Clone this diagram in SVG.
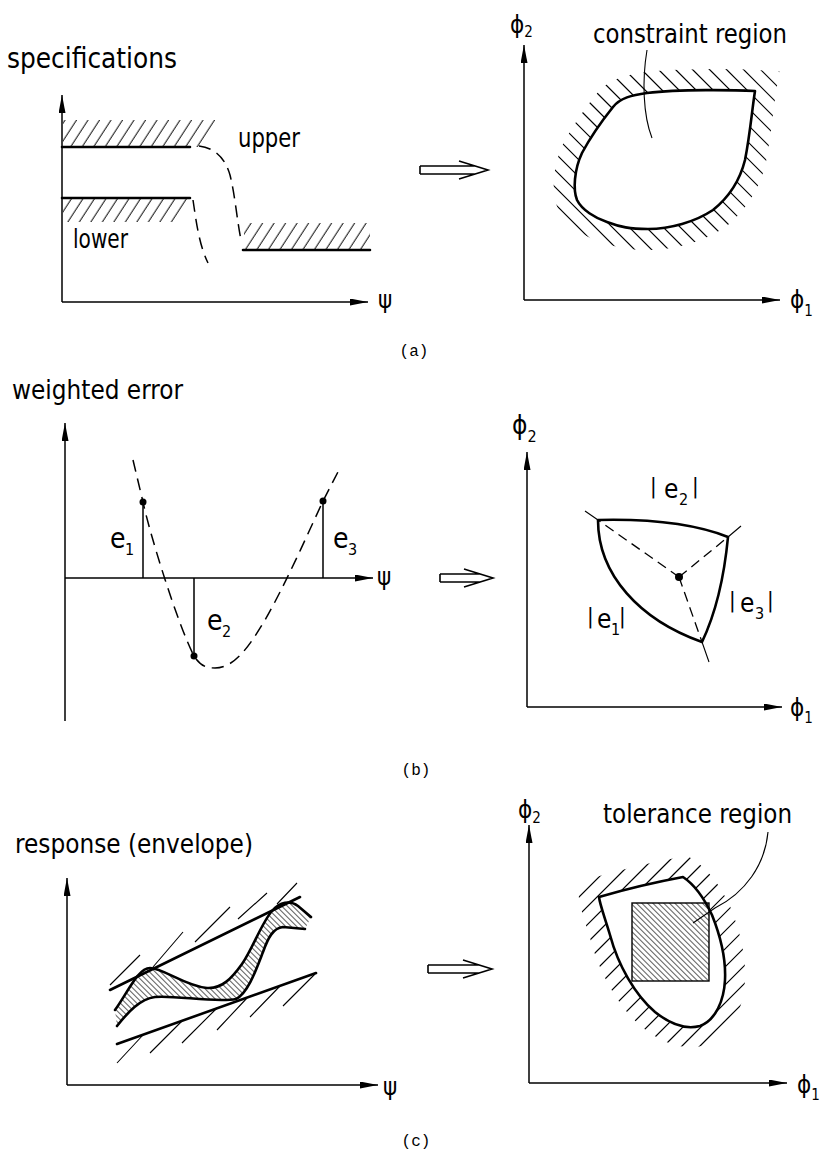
<svg xmlns="http://www.w3.org/2000/svg" width="827" height="1155" viewBox="0 0 827 1155">
<style>
.ax{fill:none;stroke:#000;stroke-width:1.5}
.bd{fill:none;stroke:#000;stroke-width:2.6;stroke-linejoin:round;stroke-linecap:round}
.tn{fill:none;stroke:#000;stroke-width:1.1}
.hl{fill:none;stroke:#000;stroke-width:1.2}
.ds{fill:none;stroke:#000;stroke-width:1.5;stroke-dasharray:12 7}
.ds2{fill:none;stroke:#000;stroke-width:1.3;stroke-dasharray:10 6}
.ha{fill:none;stroke:#000;stroke-width:1.6}
.dot{fill:#000}
text{font-family:"DejaVu Sans Condensed","DejaVu Sans",sans-serif;fill:#000}
.lb{font-size:27px}
.gr{font-size:24px}
.cap{font-family:"Liberation Mono","DejaVu Sans Mono",monospace;font-size:16px}
</style>
<defs>
<marker id="ah" markerUnits="userSpaceOnUse" markerWidth="20" markerHeight="8" refX="18" refY="3.5" orient="auto"><path d="M0,0 L18,3.5 L0,7 Z" fill="#000"/></marker>
<pattern id="pS" patternUnits="userSpaceOnUse" width="11.5" height="12" patternTransform="skewX(-33)"><line x1="5" y1="0" x2="5" y2="12" stroke="#000" stroke-width="1.1"/></pattern>
<pattern id="pD" patternUnits="userSpaceOnUse" width="5.5" height="10" patternTransform="skewX(45)"><line x1="2.7" y1="0" x2="2.7" y2="10" stroke="#000" stroke-width="0.9"/></pattern>
<path id="bA" d="M755,91 C735,90 680,89 647,93 C632,95 620,98 613,107 C605,117 590,138 582,153 C574,170 573,190 577,200 C582,210 595,218 607,222 C620,227 630,229 648,229 C670,229 695,222 713,210 C728,198 740,180 745,160 C750,135 752,110 755,91 Z"/>
<path id="bC" d="M599,897 Q640,885 683,877 C695,885 705,900 712,915 C720,935 726,960 725,980 C724,1000 716,1020 700,1026 C685,1030 670,1024 655,1012 C635,995 618,965 610,935 C604,915 600,905 599,897 Z"/>
<mask id="mA" maskUnits="userSpaceOnUse" x="0" y="0" width="827" height="1155"><use href="#bA" fill="none" stroke="#fff" stroke-width="42"/><use href="#bA" fill="#000" stroke="none"/></mask>
<mask id="mC" maskUnits="userSpaceOnUse" x="0" y="0" width="827" height="1155"><use href="#bC" fill="none" stroke="#fff" stroke-width="40"/><use href="#bC" fill="#000" stroke="none"/></mask>
</defs>
<rect width="827" height="1155" fill="#fff"/>

<!-- Panel (a) left -->
<g id="a-left">
<text x="7" y="68" font-size="28" textLength="170" lengthAdjust="spacingAndGlyphs">specifications</text>
<polygon points="63,120 222,120 204,147 63,147" fill="url(#pS)"/>
<polygon points="63,198 192,198 178,222 63,222" fill="url(#pS)"/>
<polygon points="244,223 370,223 370,250 244,250" fill="url(#pS)"/>
<path class="bd" d="M62,147 H190 M62,198 H190 M243,250 H370"/>
<path class="ds" d="M199,146 C215,148 225,158 230,175 C235,195 237,220 241,240"/>
<path class="ds" d="M193,200 C196,220 199,245 208,263"/>
<text class="lb" x="238" y="147" textLength="62" lengthAdjust="spacingAndGlyphs">upper</text>
<text class="lb" x="73" y="248" textLength="55" lengthAdjust="spacingAndGlyphs">lower</text>
<text class="gr" x="378" y="308">ψ</text>
</g>

<!-- Panel (a) right -->
<g id="a-right">
<g mask="url(#mA)">
<path class="hl" d="M350,50 L560,260 M367,50 L577,260 M384,50 L594,260 M401,50 L611,260 M418,50 L628,260 M435,50 L645,260 M452,50 L662,260 M469,50 L679,260 M486,50 L696,260 M503,50 L713,260 M520,50 L730,260 M537,50 L747,260 M554,50 L764,260 M571,50 L781,260 M588,50 L798,260 M605,50 L815,260 M622,50 L832,260 M639,50 L849,260 M656,50 L866,260 M673,50 L883,260 M690,50 L900,260 M707,50 L917,260 M724,50 L934,260 M741,50 L951,260 M758,50 L968,260 M775,50 L985,260"/>
</g>
<use href="#bA" class="bd"/>
<path class="tn" d="M647,50 C642,80 643,115 652,138"/>
<text x="593" y="43" font-size="26" textLength="194" lengthAdjust="spacingAndGlyphs">constraint region</text>
<text class="gr" x="510" y="33">ϕ<tspan font-size="15" dy="4">2</tspan></text>
<text class="gr" x="790" y="308">ϕ<tspan font-size="15" dy="8">1</tspan></text>
</g>

<!-- Panel (b) left -->
<g id="b-left">
<text x="12" y="399" font-size="26" textLength="171" lengthAdjust="spacingAndGlyphs">weighted error</text>
<path class="ds" d="M133,460 L143,502 C150,535 178,625 194,656 C200,665 205,668 215,668 C235,668 250,645 265,620 C285,585 305,540 323,501 L340,468"/>
<path class="ax" d="M143,502 V578 M194,578 V656 M323,501 V578"/>
<circle class="dot" cx="143" cy="502" r="3.5"/>
<circle class="dot" cx="194" cy="656" r="3.5"/>
<circle class="dot" cx="323" cy="501" r="3.5"/>
<text font-size="28"><tspan x="110" y="548">e</tspan><tspan x="125" y="555" font-size="16">1</tspan></text>
<text font-size="28"><tspan x="207" y="630">e</tspan><tspan x="222" y="637" font-size="16">2</tspan></text>
<text font-size="28"><tspan x="333" y="548">e</tspan><tspan x="348" y="555" font-size="16">3</tspan></text>
<text class="gr" x="377" y="585">ψ</text>
</g>

<!-- Panel (b) right -->
<g id="b-right">
<path class="ds2" d="M679,577 L598,520 M679,577 L728,537 M679,577 L702,642"/>
<path class="tn" d="M585,511 L598,520 M728,537 L741,526 M702,642 L709,662"/>
<path class="bd" d="M598,520 Q680,518 728,537 Q722,600 702,642 C640,620 598,575 598,520 Z"/>
<circle class="dot" cx="679" cy="577" r="4"/>
<text font-size="26"><tspan x="650" y="493" font-size="22">|</tspan><tspan x="664" y="498">e</tspan><tspan x="679" y="505" font-size="16">2</tspan><tspan x="692" y="493" font-size="22">|</tspan></text>
<text font-size="26"><tspan x="587" y="623" font-size="22">|</tspan><tspan x="597" y="628">e</tspan><tspan x="611" y="635" font-size="16">1</tspan><tspan x="619" y="623" font-size="22">|</tspan></text>
<text font-size="26"><tspan x="729" y="607" font-size="22">|</tspan><tspan x="740" y="612">e</tspan><tspan x="755" y="619" font-size="16">3</tspan><tspan x="767" y="607" font-size="22">|</tspan></text>
<text x="512" y="434" font-size="26">ϕ<tspan font-size="16" dy="8">2</tspan></text>
<text class="gr" x="790" y="716">ϕ<tspan font-size="15" dy="7">1</tspan></text>
</g>

<!-- Panel (c) left -->
<g id="c-left">
<text x="15" y="853" font-size="26" textLength="238" lengthAdjust="spacingAndGlyphs">response (envelope)</text>
<path d="M115,1010 C128,992 138,968 150,968 C163,968 185,986 207,988 C222,989 232,978 242,964 C252,950 262,922 272,911 C280,902 290,900 298,906 L311,917 L305,929 L283,927 C273,928 268,938 263,952 C256,970 248,993 236,999 C215,1003 175,995 155,997 C140,999 128,1012 117,1026 Z" fill="url(#pD)"/>
<path class="bd" d="M115,1010 C128,992 138,968 150,968 C163,968 185,986 207,988 C222,989 232,978 242,964 C252,950 262,922 272,911 C280,902 290,900 298,906 L311,917"/>
<path class="bd" d="M117,1026 C128,1012 140,999 155,997 C175,995 215,1003 236,999 C248,993 256,970 263,952 C268,938 273,928 283,927 L305,929"/>
<path class="bd" d="M110,990 L300,897 M117,1044 L316,973"/>
<path class="tn" d="M110,985 L140,955 M153,967 L183,932 M195,942 L230,907 M238,919 L267,893 M277,904 L297,883"/>
<path class="tn" d="M117,1063 L143,1035 M150,1053 L182,1021 M182,1043 L217,1008 M217,1030 L247,998 M250,1017 L280,986 M283,1006 L315,974"/>
<text class="gr" x="383" y="1095">ψ</text>
</g>

<!-- Panel (c) right -->
<g id="c-right">
<g mask="url(#mC)">
<path class="hl" d="M600,840 L380,1060 M618,840 L398,1060 M636,840 L416,1060 M654,840 L434,1060 M672,840 L452,1060 M690,840 L470,1060 M708,840 L488,1060 M726,840 L506,1060 M744,840 L524,1060 M762,840 L542,1060 M780,840 L560,1060 M798,840 L578,1060 M816,840 L596,1060 M834,840 L614,1060 M852,840 L632,1060 M870,840 L650,1060 M888,840 L668,1060 M906,840 L686,1060 M924,840 L704,1060 M942,840 L722,1060 M960,840 L740,1060"/>
</g>
<use href="#bC" class="bd"/>
<rect x="632" y="903" width="77" height="78" fill="url(#pD)" stroke="#000" stroke-width="1.4"/>
<path class="tn" d="M768,832 C765,865 745,893 715,908 L693,923"/>
<text x="603" y="823" font-size="26" textLength="189" lengthAdjust="spacingAndGlyphs">tolerance region</text>
<text class="gr" x="518" y="818">ϕ<tspan font-size="15" dy="5">2</tspan></text>
<text class="gr" x="797" y="1093">ϕ<tspan font-size="15" dy="7">1</tspan></text>
</g>

<!-- Axes and arrows -->
<g id="connectors">
<path class="ax" d="M62,302 L62,95" marker-end="url(#ah)"/>
<path class="ax" d="M62,302 L368,302" marker-end="url(#ah)"/>
<path class="ax" d="M524,300 L524,45" marker-end="url(#ah)"/>
<path class="ax" d="M524,300 L780,300" marker-end="url(#ah)"/>
<path class="ax" d="M65,721 L65,423" marker-end="url(#ah)"/>
<path class="ax" d="M65,578 L373,578" marker-end="url(#ah)"/>
<path class="ax" d="M527,707 L527,452" marker-end="url(#ah)"/>
<path class="ax" d="M527,707 L782,707" marker-end="url(#ah)"/>
<path class="ax" d="M67,1085 L67,878" marker-end="url(#ah)"/>
<path class="ax" d="M67,1085 L378,1085" marker-end="url(#ah)"/>
<path class="ax" d="M529,1083 L529,825" marker-end="url(#ah)"/>
<path class="ax" d="M529,1083 L787,1083" marker-end="url(#ah)"/>
<path class="ha" d="M420,166 H475 M420,174 H475 M420,166 V174 M459,161 L488,170 L459,179"/>
<path class="ha" d="M440,574 H480 M440,582 H480 M440,574 V582 M464,569 L493,578 L464,587"/>
<path class="ha" d="M428,965 H479 M428,973 H479 M428,965 V973 M463,960 L492,969 L463,978"/>
</g>

<g id="captions">
<text class="cap" x="414" y="356" text-anchor="middle">(a)</text>
<text class="cap" x="416" y="775" text-anchor="middle">(b)</text>
<text class="cap" x="416" y="1146" text-anchor="middle">(c)</text>
</g>
</svg>
